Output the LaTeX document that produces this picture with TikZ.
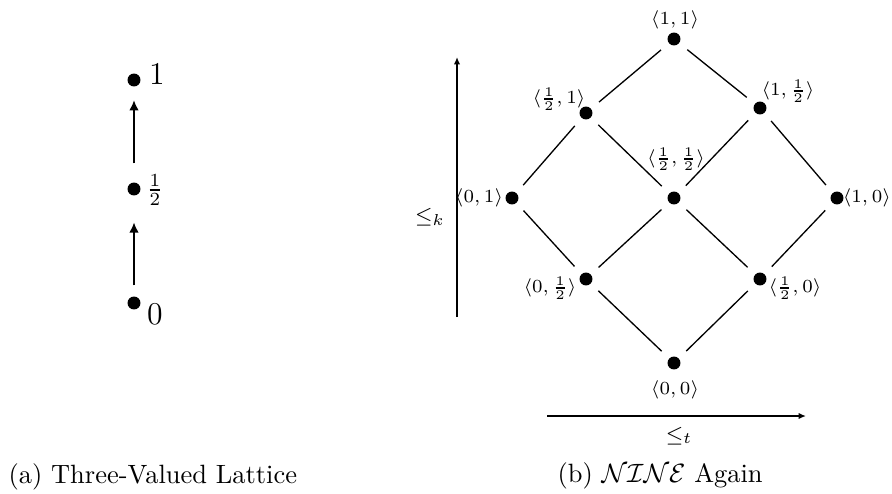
\documentclass[tikz,border=0pt]{standalone}
\usetikzlibrary{arrows.meta}
\begin{document}
\begin{tikzpicture}[x=0.378pt,y=-0.378pt,
  dot/.style={circle,fill=black,inner sep=0pt,minimum size=4.9pt},
  edge/.style={line width=0.5pt,shorten <=3.8pt,shorten >=3.8pt},
  larr/.style={line width=0.65pt,-{Latex[length=3.8pt,width=3.6pt]}},
  rarr/.style={line width=0.6pt,-{Latex[length=2.8pt,width=2.4pt]}},
  lab/.style={inner sep=0pt,font=\fontsize{7.2}{9}\selectfont},
  ordlab/.style={inner sep=0pt,font=\fontsize{8}{10}\selectfont},
  big/.style={inner sep=0pt,font=\fontsize{12}{14}\selectfont},
  mid/.style={inner sep=0pt,font=\fontsize{10}{12}\selectfont},
  captext/.style={inner sep=0pt,anchor=west,font=\fontsize{10}{12}\selectfont}]
\useasboundingbox (0,0) rectangle (892,493);

% (a) three-valued lattice
\node[dot] (one) at (134,80) {};
\node[dot] (half) at (134,189) {};
\node[dot] (zero) at (134,303) {};
\node[big] (lone) at (157,74) {$1$};
\node[mid] (lhalf) at (155,190) {$\frac12$};
\node[big] (lzero) at (155,314) {$0$};
\draw[larr,shorten <=4pt,shorten >=10pt] (zero) -- (half);
\draw[larr,shorten <=7pt,shorten >=5pt] (half) -- (one);

% (b) NINE
\node[dot] (n11) at (674,39) {};
\node[dot] (nh1) at (586,113) {};
\node[dot] (n1h) at (760,108) {};
\node[dot] (n01) at (512,198) {};
\node[dot] (nhh) at (674,198) {};
\node[dot] (n10) at (837,198) {};
\node[dot] (n0h) at (586,279) {};
\node[dot] (nh0) at (760,279) {};
\node[dot] (n00) at (674,363) {};

\draw[edge] (n11) -- (nh1);
\draw[edge] (n11) -- (n1h);
\draw[edge] (nh1) -- (n01);
\draw[edge] (nh1) -- (nhh);
\draw[edge] (n1h) -- (nhh);
\draw[edge] (n1h) -- (n10);
\draw[edge] (n01) -- (n0h);
\draw[edge] (nhh) -- (n0h);
\draw[edge] (nhh) -- (nh0);
\draw[edge] (n10) -- (nh0);
\draw[edge] (n0h) -- (n00);
\draw[edge] (nh0) -- (n00);

\node[lab] (l11) at (675,20) {$\langle 1,1\rangle$};
\node[lab] (lh1) at (559,99) {$\langle \frac12,1\rangle$};
\node[lab] (l1h) at (788,91) {$\langle 1,\frac12\rangle$};
\node[lab] (lhh) at (676,159) {$\langle \frac12,\frac12\rangle$};
\node[lab] (l01) at (479,198) {$\langle 0,1\rangle$};
\node[lab,anchor=east] (l10) at (891.5,198) {$\langle 1,0\rangle$};
\node[lab] (l0h) at (550,288) {$\langle 0,\frac12\rangle$};
\node[lab] (lh0) at (795,288) {$\langle \frac12,0\rangle$};
\node[lab] (l00) at (675,390) {$\langle 0,0\rangle$};

\coordinate (kb) at (457,317);
\coordinate (kt) at (457,57);
\draw[rarr] (kb) -- (kt);
\node[ordlab] (lk) at (430,217) {$\leq_k$};
\coordinate (tl) at (547,416);
\coordinate (tr) at (806,416);
\draw[rarr] (tl) -- (tr);
\node[ordlab] (lt) at (679,436) {$\leq_t$};

\node[captext] (capa) at (8,477) {(a) Three-Valued Lattice};
\node[captext] (capb) at (557,476) {(b) $\mathcal{NINE}$ Again};
\end{tikzpicture}
\end{document}
